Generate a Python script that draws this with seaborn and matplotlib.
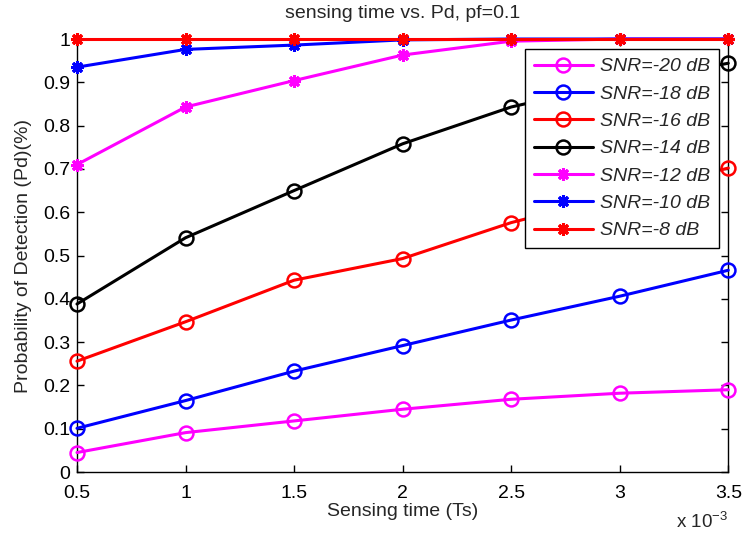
import numpy as np
import pandas as pd
import matplotlib
matplotlib.use("Agg")
import matplotlib.pyplot as plt
import seaborn as sns

# ---- data ----
sensing_time = [0.5, 1.0, 1.5, 2.0, 2.5, 3.0, 3.5]   # x 10^-3
snr_labels = ["SNR=-20 dB", "SNR=-18 dB", "SNR=-16 dB", "SNR=-14 dB",
              "SNR=-12 dB", "SNR=-10 dB", "SNR=-8 dB"]
pd_snr_m20 = [0.045, 0.091, 0.118, 0.145, 0.168, 0.182, 0.190]
pd_snr_m18 = [0.101, 0.165, 0.233, 0.292, 0.351, 0.406, 0.466]
pd_snr_m16 = [0.256, 0.347, 0.443, 0.493, 0.576, 0.640, 0.702]
pd_snr_m14 = [0.388, 0.541, 0.650, 0.758, 0.843, 0.900, 0.944]
pd_snr_m12 = [0.710, 0.843, 0.904, 0.963, 0.995, 1.000, 1.000]
pd_snr_m10 = [0.935, 0.976, 0.986, 0.998, 1.000, 1.000, 1.000]
pd_snr_m8 = [1.000, 1.000, 1.000, 1.000, 1.000, 1.000, 1.000]
x_ticks = [0.5, 1, 1.5, 2, 2.5, 3, 3.5]
x_tick_labels = ["0.5", "1", "1.5", "2", "2.5", "3", "3.5"]
y_ticks = [0, 0.1, 0.2, 0.3, 0.4, 0.5, 0.6, 0.7, 0.8, 0.9, 1.0]
y_tick_labels = ["0", "0.1", "0.2", "0.3", "0.4", "0.5", "0.6", "0.7", "0.8", "0.9", "1"]

series = [pd_snr_m20, pd_snr_m18, pd_snr_m16, pd_snr_m14,
          pd_snr_m12, pd_snr_m10, pd_snr_m8]
colors = ["#FF00FF", "#0000FF", "#FF0000", "#000000",
          "#FF00FF", "#0000FF", "#FF0000"]

sns.set_style("ticks")
plt.rcParams["font.family"] = ["Liberation Sans", "DejaVu Sans"]
plt.rcParams["mathtext.fontset"] = "custom"
plt.rcParams["mathtext.rm"] = "Liberation Sans"

fig = plt.figure(figsize=(7.43, 5.33), dpi=100)
ax = fig.add_axes([0.1036, 0.1144, 0.8766, 0.8124])

for i, (lab, vals, col) in enumerate(zip(snr_labels, series, colors)):
    df = pd.DataFrame({"t": sensing_time, "p": vals})
    if i < 4:
        sns.lineplot(data=df, x="t", y="p", ax=ax, color=col, lw=2.2,
                     marker="o", markersize=10, markerfacecolor="none",
                     markeredgecolor=col, markeredgewidth=1.8, label=lab,
                     clip_on=False, zorder=3 + i)
    else:
        sns.lineplot(data=df, x="t", y="p", ax=ax, color=col, lw=2.2,
                     marker=(8, 2, 0), markersize=9, markeredgecolor=col,
                     markeredgewidth=2.2, label=lab, clip_on=False, zorder=3 + i)

ax.set_xlim(0.5, 3.5)
ax.set_ylim(0, 1)
ax.set_xticks(x_ticks)
ax.set_xticklabels(x_tick_labels)
ax.set_yticks(y_ticks)
ax.set_yticklabels(y_tick_labels)
ax.tick_params(direction="in", length=5, width=1, top=True, right=True,
               labelsize=14, colors="black", pad=5)
ax.tick_params(axis="x", pad=9)
for s in ax.spines.values():
    s.set_visible(True)
    s.set_linewidth(1)
    s.set_color("black")

ax.set_xlabel("Sensing time (Ts)", fontsize=14, labelpad=1)
ax.set_ylabel("Probability of Detection (Pd)(%)", fontsize=14, labelpad=8)
ax.set_title("sensing time vs. Pd, pf=0.1", fontsize=14, pad=15)
ax.text(1.0, -0.129, r"x 10$^{-3}$", transform=ax.transAxes, ha="right",
        va="baseline", fontsize=13.5)

leg = ax.legend(loc="upper right", bbox_to_anchor=(0.986, 0.977),
                borderaxespad=0, fancybox=False, framealpha=1,
                edgecolor="black", handlelength=3.0,
                handletextpad=0.4, labelspacing=0.5, borderpad=0.45,
                prop={"style": "italic", "size": 14})
leg.get_frame().set_linewidth(1)
leg.set_zorder(20)

fig.savefig("out.png", dpi=100, facecolor="white")
